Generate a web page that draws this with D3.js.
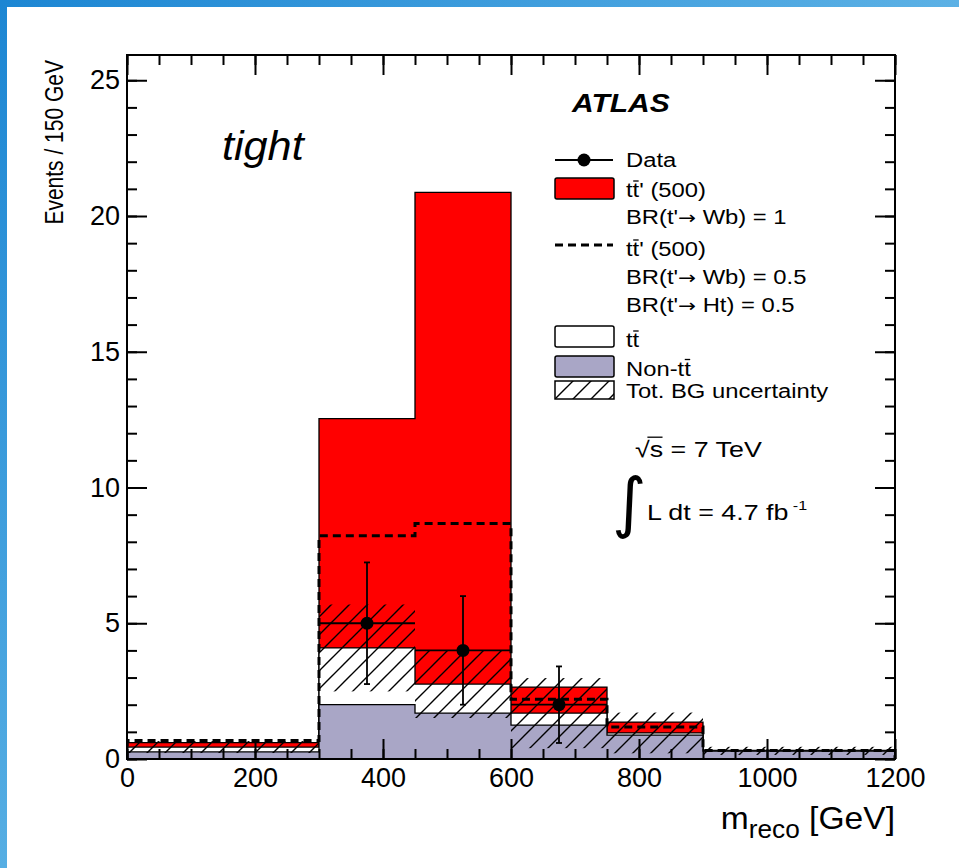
<!DOCTYPE html>
<html>
<head>
<meta charset="utf-8">
<script src="https://cdn.jsdelivr.net/npm/d3@7"></script>
<style>
body { margin: 0; background: #fff; }
svg { display: block; font-family: "Liberation Sans", Arial, Helvetica, sans-serif; }
</style>
</head>
<body>
<script>
var width = 959;
var height = 868;

// histogram bins, 150 GeV wide
var edges = [0, 150, 300, 450, 600, 750, 900, 1050, 1200];
// stacked components (per bin)
var nonTT  = [0.26, 0.26, 2.00, 1.69, 1.25, 0.88, 0.29, 0.29];
var ttbar  = [0.18, 0.18, 2.09, 1.07, 0.44, 0.08, 0.01, 0.01];
var sigBR1 = [0.16, 0.16, 8.45, 18.11, 0.96, 0.40, 0.02, 0.02];
var sigBR05 = [0.24, 0.24, 4.13, 5.91, 0.51, 0.22, 0.01, 0.01];
var bgErr  = [0.22, 0.22, 1.60, 1.25, 1.29, 0.75, 0.15, 0.15];
// data points
var dataX = [375, 525, 675];
var dataY = [5, 4, 2];
var dataErr = [2.24, 2.0, 1.41];
var dataXErr = [75, 75, 75];

var xMajor = [0, 200, 400, 600, 800, 1000, 1200];
var yMajor = [0, 5, 10, 15, 20, 25];

var legendLabels = [
  ["Data"],
  ["t", {t: "t", bar: true}, "' (500)"],
  ["BR(t'\u2192 Wb) = 1"],
  ["t", {t: "t", bar: true}, "' (500)"],
  ["BR(t'\u2192 Wb) = 0.5"],
  ["BR(t'\u2192 Ht) = 0.5"],
  ["t", {t: "t", bar: true}],
  ["Non-t", {t: "t", bar: true}],
  ["Tot. BG uncertainty"]
];

var svg = d3.select("body").append("svg").attr("width", width).attr("height", height);

// blue border strips of the page
var defs = svg.append("defs");
var gTop = defs.append("linearGradient").attr("id", "gtop");
gTop.append("stop").attr("offset", "0").attr("stop-color", "#1c86d3");
gTop.append("stop").attr("offset", "1").attr("stop-color", "#5cb1e5");
var gLeft = defs.append("linearGradient").attr("id", "gleft").attr("x1", 0).attr("y1", 0).attr("x2", 0).attr("y2", 1);
gLeft.append("stop").attr("offset", "0").attr("stop-color", "#1c86d3");
gLeft.append("stop").attr("offset", "1").attr("stop-color", "#56aee3");
svg.append("rect").attr("x", 0).attr("y", 0).attr("width", width).attr("height", 7).attr("fill", "url(#gtop)");
svg.append("rect").attr("x", 0).attr("y", 0).attr("width", 7).attr("height", height).attr("fill", "url(#gleft)");

var hatch = defs.append("pattern").attr("id", "hatch").attr("patternUnits", "userSpaceOnUse")
  .attr("width", 18).attr("height", 18);
hatch.append("path").attr("d", "M0,18 L18,0 M-4,4 L4,-4 M14,22 L22,14")
  .attr("stroke", "#000").attr("stroke-width", 1.4);

var x = d3.scaleLinear().domain([0, 1200]).range([127, 895]);
var y = d3.scaleLinear().domain([0, 25.93]).range([759, 55]);

defs.append("clipPath").attr("id", "plotclip").append("rect")
  .attr("x", 127).attr("y", 55).attr("width", 768).attr("height", 704);

function cum(a, b) { return a.map(function (v, i) { return v + b[i]; }); }
var bgTot = cum(nonTT, ttbar);
var redTot = cum(bgTot, sigBR1);
var dashTot = cum(bgTot, sigBR05);

function stepPts(vals) {
  var pts = [[edges[0], 0]];
  vals.forEach(function (v, i) { pts.push([edges[i], v], [edges[i + 1], v]); });
  pts.push([edges[edges.length - 1], 0]);
  return pts;
}
var line = d3.line().x(function (d) { return x(d[0]); }).y(function (d) { return y(d[1]); });

var plot = svg.append("g").attr("clip-path", "url(#plotclip)");

[[redTot, "#ff0000"], [bgTot, "#ffffff"], [nonTT, "#a9a6c6"]].forEach(function (h) {
  plot.append("path").attr("d", line(stepPts(h[0])) + "Z")
    .attr("fill", h[1]).attr("stroke", "#000").attr("stroke-width", 1.3);
});

plot.append("path").attr("d", line(stepPts(dashTot)))
  .attr("fill", "none").attr("stroke", "#000").attr("stroke-width", 3).attr("stroke-dasharray", "8,5");

plot.selectAll("rect.unc").data(bgTot).enter().append("rect").attr("class", "unc")
  .attr("x", function (d, i) { return x(edges[i]); })
  .attr("width", function (d, i) { return x(edges[i + 1]) - x(edges[i]); })
  .attr("y", function (d, i) { return y(d + bgErr[i]); })
  .attr("height", function (d, i) { return y(Math.max(0, d - bgErr[i])) - y(d + bgErr[i]); })
  .attr("fill", "url(#hatch)");

// data with error bars
var pts = plot.selectAll("g.pt").data(dataY).enter().append("g").attr("class", "pt");
pts.append("line")
  .attr("x1", function (d, i) { return x(dataX[i]); }).attr("x2", function (d, i) { return x(dataX[i]); })
  .attr("y1", function (d, i) { return y(d - dataErr[i]); }).attr("y2", function (d, i) { return y(d + dataErr[i]); })
  .attr("stroke", "#000").attr("stroke-width", 1.8);
pts.append("line")
  .attr("x1", function (d, i) { return x(dataX[i] - dataXErr[i]); }).attr("x2", function (d, i) { return x(dataX[i] + dataXErr[i]); })
  .attr("y1", function (d) { return y(d); }).attr("y2", function (d) { return y(d); })
  .attr("stroke", "#000").attr("stroke-width", 1.8);
[1, -1].forEach(function (s) {
  pts.append("line")
    .attr("x1", function (d, i) { return x(dataX[i]) - 3; }).attr("x2", function (d, i) { return x(dataX[i]) + 3; })
    .attr("y1", function (d, i) { return y(d + s * dataErr[i]); }).attr("y2", function (d, i) { return y(d + s * dataErr[i]); })
    .attr("stroke", "#000").attr("stroke-width", 1.8);
});
pts.append("circle")
  .attr("cx", function (d, i) { return x(dataX[i]); }).attr("cy", function (d) { return y(d); })
  .attr("r", 6.5).attr("fill", "#000");

// axes, ROOT style ticks on all four sides
function styleAxis(g) {
  g.select(".domain").remove();
  g.selectAll(".tick line").attr("stroke", "#000").attr("stroke-width", 2);
  g.selectAll("text").attr("font-size", 27).attr("fill", "#000")
    .attr("font-family", "'Liberation Sans', Arial, sans-serif");
}
var xMinor = d3.range(0, 1201, 50);
var yMinor = d3.range(0, 26, 1);
svg.append("g").attr("transform", "translate(0,759)")
  .call(d3.axisBottom(x).tickValues(xMinor).tickFormat("").tickSize(-10).tickSizeOuter(0)).call(styleAxis);
svg.append("g").attr("transform", "translate(0,759)")
  .call(d3.axisBottom(x).tickValues(xMajor).tickFormat(d3.format("d")).tickSize(-20).tickSizeOuter(0).tickPadding(9)).call(styleAxis);
svg.append("g").attr("transform", "translate(0,55)")
  .call(d3.axisTop(x).tickValues(xMinor).tickFormat("").tickSize(-10).tickSizeOuter(0)).call(styleAxis);
svg.append("g").attr("transform", "translate(0,55)")
  .call(d3.axisTop(x).tickValues(xMajor).tickFormat("").tickSize(-20).tickSizeOuter(0)).call(styleAxis);
svg.append("g").attr("transform", "translate(127,0)")
  .call(d3.axisLeft(y).tickValues(yMinor).tickFormat("").tickSize(-10).tickSizeOuter(0)).call(styleAxis);
svg.append("g").attr("transform", "translate(127,0)")
  .call(d3.axisLeft(y).tickValues(yMajor).tickFormat(d3.format("d")).tickSize(-20).tickSizeOuter(0).tickPadding(7)).call(styleAxis);
svg.append("g").attr("transform", "translate(895,0)")
  .call(d3.axisRight(y).tickValues(yMinor).tickFormat("").tickSize(-10).tickSizeOuter(0)).call(styleAxis);
svg.append("g").attr("transform", "translate(895,0)")
  .call(d3.axisRight(y).tickValues(yMajor).tickFormat("").tickSize(-20).tickSizeOuter(0)).call(styleAxis);

svg.append("rect").attr("x", 127).attr("y", 55).attr("width", 768).attr("height", 704)
  .attr("fill", "none").attr("stroke", "#000").attr("stroke-width", 2);

// text helper: parts with optional overbar / sub / sup; arrows drawn in DejaVu
function rich(parent, px, py, parts, o) {
  var g = parent.append("g").attr("transform", "translate(" + px + "," + py + ") scale(" + (o.sx || 1) + ",1)");
  var t = g.append("text").attr("font-size", o.size).attr("text-anchor", o.anchor || "start")
    .attr("font-style", o.style || null).attr("font-weight", o.weight || null).attr("fill", "#000");
  var idx = 0, shift = 0, bars = [];
  parts.forEach(function (p) {
    if (typeof p === "string") p = {t: p};
    var want = p.sub ? o.size * 0.28 : (p.sup ? -o.size * 0.45 : 0);
    var first = true;
    p.t.split(/(\u2192)/).forEach(function (piece) {
      if (!piece) return;
      var s = t.append("tspan").text(piece);
      if (first) { s.attr("dy", want - shift); first = false; }
      if (p.sub || p.sup) s.attr("font-size", o.size * (p.scale || 0.75));
      if (piece === "\u2192") s.attr("font-family", "'DejaVu Sans', sans-serif").attr("font-size", o.size * 0.9);
    });
    shift = want;
    if (p.bar) bars.push([idx, idx + p.t.length - 1, p.skip || 0]);
    idx += p.t.length;
  });
  bars.forEach(function (b) {
    var e0 = t.node().getExtentOfChar(b[0]), e1 = t.node().getExtentOfChar(b[1]);
    var by = -o.size * (o.barY || 0.8);
    g.append("line").attr("x1", e0.x + e0.width * b[2] + 0.5).attr("x2", e1.x + e1.width - 0.5)
      .attr("y1", by).attr("y2", by).attr("stroke", "#000").attr("stroke-width", 1.3);
  });
  return g;
}

// legend
var lg = svg.append("g");
lg.append("line").attr("x1", 555).attr("x2", 613).attr("y1", 160).attr("y2", 160).attr("stroke", "#000").attr("stroke-width", 2);
lg.append("circle").attr("cx", 584).attr("cy", 160).attr("r", 6.5).attr("fill", "#000");
lg.append("rect").attr("x", 555).attr("y", 178).attr("width", 59).attr("height", 21).attr("rx", 2)
  .attr("fill", "#ff0000").attr("stroke", "#000").attr("stroke-width", 1.5);
lg.append("line").attr("x1", 555).attr("x2", 613).attr("y1", 245).attr("y2", 245)
  .attr("stroke", "#000").attr("stroke-width", 3).attr("stroke-dasharray", "8,5");
lg.append("rect").attr("x", 555).attr("y", 326).attr("width", 59).attr("height", 21).attr("rx", 2)
  .attr("fill", "#fff").attr("stroke", "#000").attr("stroke-width", 1.5);
lg.append("rect").attr("x", 555).attr("y", 356).attr("width", 59).attr("height", 21).attr("rx", 2)
  .attr("fill", "#a9a6c6").attr("stroke", "#000").attr("stroke-width", 1.5);
lg.append("rect").attr("x", 555).attr("y", 381).attr("width", 59).attr("height", 18)
  .attr("fill", "url(#hatch)").attr("stroke", "#000").attr("stroke-width", 1.5);
var legendBase = [167, 197, 224, 256, 284, 312, 347, 375.5, 398];
legendLabels.forEach(function (parts, i) {
  rich(lg, 626, legendBase[i], parts, {size: 20, sx: 1.19});
});

rich(svg, 572, 112, ["ATLAS"], {size: 25, sx: 1.2, style: "italic", weight: "bold"});
rich(svg, 222, 160, ["tight"], {size: 40, sx: 1.08, style: "italic"});
rich(svg, 635, 457, [{t: "\u221As", bar: true, skip: 0.8}, " = 7 TeV"], {size: 22, sx: 1.22, barY: 0.9});
svg.append("text").attr("x", 612).attr("y", 525).attr("font-size", 66)
  .attr("font-family", "'DejaVu Sans', sans-serif").text("\u222B");
rich(svg, 647, 520, ["L dt = 4.7 fb", {t: " -1", sup: true, scale: 0.6}], {size: 22, sx: 1.22});

// axis titles
rich(svg, 895, 829, ["m", {t: "reco", sub: true, scale: 0.78}, " [GeV]"], {size: 32, sx: 1.05, anchor: "end"});
svg.append("text").attr("transform", "translate(63,60) scale(1.25,1) rotate(-90)").attr("text-anchor", "end")
  .attr("font-size", 21).attr("fill", "#000").text("Events / 150 GeV");
</script>
</body>
</html>
